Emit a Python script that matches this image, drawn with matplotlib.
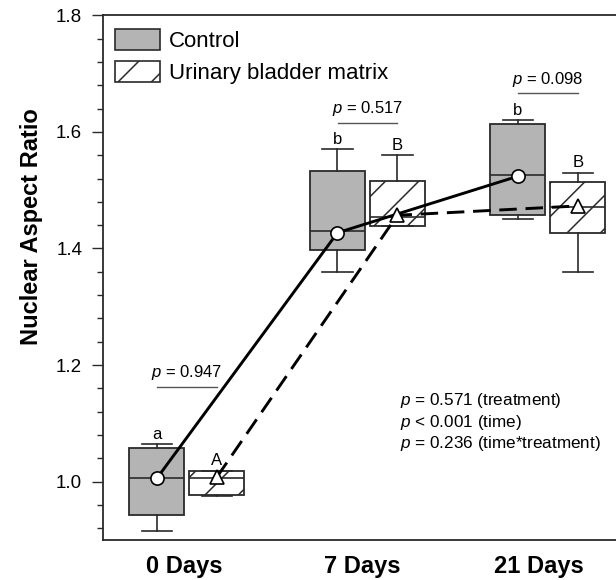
import matplotlib
matplotlib.use("Agg")
import matplotlib.pyplot as plt
from matplotlib.patches import Patch
from matplotlib.ticker import MultipleLocator, FormatStrFormatter

plt.rcParams['font.family'] = ['Liberation Sans', 'DejaVu Sans']
plt.rcParams['mathtext.fontset'] = 'custom'
plt.rcParams['mathtext.it'] = 'Liberation Sans:italic'
plt.rcParams['mathtext.rm'] = 'Liberation Sans'
plt.rcParams['hatch.linewidth'] = 1.1

# data
groups = ['0 Days', '7 Days', '21 Days']

ctl_q1 = [0.943, 1.397, 1.457]
ctl_med = [1.006, 1.430, 1.526]
ctl_q3 = [1.057, 1.533, 1.613]
ctl_lo = [0.915, 1.360, 1.450]
ctl_hi = [1.064, 1.570, 1.620]
ctl_mean = [1.006, 1.427, 1.524]

ubm_q1 = [0.977, 1.439, 1.427]
ubm_med = [1.006, 1.454, 1.471]
ubm_q3 = [1.019, 1.515, 1.514]
ubm_lo = [0.975, 1.439, 1.360]
ubm_hi = [1.019, 1.560, 1.530]
ubm_mean = [1.008, 1.457, 1.473]

ctl_letters = ['a', 'b', 'b']
ubm_letters = ['A', 'B', 'B']

p_pairs = ['0.947', '0.517', '0.098']
p_pair_y = [1.163, 1.615, 1.666]

stats_lines = ['$\\mathit{p}$ = 0.571 (treatment)',
               '$\\mathit{p}$ < 0.001 (time)',
               '$\\mathit{p}$ = 0.236 (time*treatment)']

gray = '#b4b4b4'
edge = '#2a2a2a'
off = 0.166
bw = 0.305

fig = plt.figure(figsize=(6.16, 5.8), dpi=100)
ax = fig.add_axes([0.1672, 0.069, 0.86, 0.9046])

xs = list(range(len(groups)))
ctl_x = [x - off for x in xs]
ubm_x = [x + off for x in xs]


def mkstats(q1, med, q3, lo, hi):
    return [dict(q1=a, med=b, q3=c, whislo=d, whishi=e, fliers=[])
            for a, b, c, d, e in zip(q1, med, q3, lo, hi)]


common = dict(widths=bw, capwidths=0.17, patch_artist=True, showfliers=False,
              whiskerprops=dict(color=edge, lw=1.2),
              capprops=dict(color=edge, lw=1.2),
              medianprops=dict(color=edge, lw=1.2))

b1 = ax.bxp(mkstats(ctl_q1, ctl_med, ctl_q3, ctl_lo, ctl_hi), positions=ctl_x,
            boxprops=dict(facecolor=gray, edgecolor=edge, lw=1.3), **common)
b2 = ax.bxp(mkstats(ubm_q1, ubm_med, ubm_q3, ubm_lo, ubm_hi), positions=ubm_x,
            boxprops=dict(facecolor='white', edgecolor=edge, lw=1.3, hatch='/'), **common)

# mean lines
ax.plot(ctl_x, ctl_mean, color='black', lw=2.1, zorder=5)
ax.plot(ubm_x, ubm_mean, color='black', lw=2.1, dashes=(6, 3), zorder=5)
ax.plot(ctl_x, ctl_mean, 'o', ms=9.5, mfc='white', mec='black', mew=1.2, zorder=6)
ax.plot(ubm_x, ubm_mean, '^', ms=10, mfc='white', mec='black', mew=1.2, zorder=6)

# significance letters
for x, y, t in zip(ctl_x, ctl_hi, ctl_letters):
    ax.text(x, y + 0.009, t, ha='center', va='baseline', fontsize=12)
for x, y, t in zip(ubm_x, ubm_hi, ubm_letters):
    ax.text(x, y + 0.009, t, ha='center', va='baseline', fontsize=12)

# pairwise p-values
for x, y, p in zip(xs, p_pair_y, p_pairs):
    ax.plot([x - 0.165, x + 0.165], [y, y], color='#555555', lw=1.0)
    ax.text(x, y + 0.008, '$\\mathit{p}$ = ' + p, ha='center', va='bottom', fontsize=12)

ax.text(1.18, 1.102, '\n'.join(stats_lines), ha='left', va='center',
        fontsize=12.3, linespacing=1.17)

ax.set_xlim(-0.465, 2.47)
ax.set_ylim(0.9, 1.8)
ax.set_xticks([-0.017, 0.97, 1.95])
ax.set_xticklabels(groups, fontsize=17, fontweight='bold')
ax.tick_params(axis='x', length=0, pad=11)
ax.yaxis.set_major_locator(MultipleLocator(0.2))
ax.yaxis.set_minor_locator(MultipleLocator(0.04))
ax.yaxis.set_major_formatter(FormatStrFormatter('%.1f'))
ax.tick_params(axis='y', which='major', length=8, width=1.0, labelsize=13.5, pad=7,
               color=edge)
ax.tick_params(axis='y', which='minor', length=4.5, width=1.0, color=edge)
for s in ax.spines.values():
    s.set_linewidth(1.3)
    s.set_color(edge)

ax.set_ylabel('Nuclear Aspect Ratio', fontsize=17, fontweight='bold')
ax.yaxis.set_label_coords(-0.113, 0.598)

handles = [Patch(facecolor=gray, edgecolor=edge, lw=1.2, label='Control'),
           Patch(facecolor='white', edgecolor=edge, lw=1.2, hatch='/',
                 label='Urinary bladder matrix')]
ax.legend(handles=handles, loc='upper left', bbox_to_anchor=(0.0227, 0.973),
          frameon=False, fontsize=16, handlelength=2.03, handleheight=1.04,
          handletextpad=0.4, labelspacing=0.4, borderpad=0, borderaxespad=0)

fig.savefig('out.png', dpi=100)
